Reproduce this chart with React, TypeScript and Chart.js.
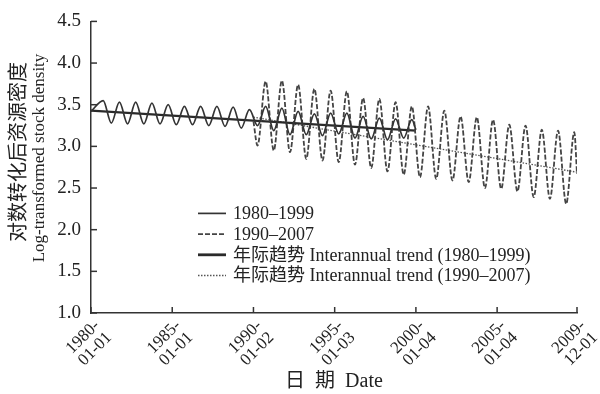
import React, { useEffect, useRef } from "react";
import { Chart, registerables } from "chart.js";

Chart.register(...registerables);

// x axis: month index from 1980-01 (0) to 2009-12 (359)
const tickMonths = [0, 60, 120, 180, 240, 300, 359];
const tickLabels = [
  ["1980-", "01-01"],
  ["1985-", "01-01"],
  ["1990-", "01-02"],
  ["1995-", "01-03"],
  ["2000-", "01-04"],
  ["2005-", "01-04"],
  ["2009-", "12-01"],
];

// seasonal extremes (peak ~ October, trough ~ April)
const peakMonthOfYear = 9;
const troughMonthOfYear = 3;

// Series 1980–1999
const s1Start = { month: 0, value: 3.42 };
const s1PeakYears = [1980, 1981, 1982, 1983, 1984, 1985, 1986, 1987, 1988, 1989, 1990, 1991, 1992, 1993, 1994, 1995, 1996, 1997, 1998, 1999];
const s1Peaks = [3.55, 3.53, 3.53, 3.52, 3.5, 3.48, 3.48, 3.48, 3.47, 3.44, 3.48, 3.46, 3.42, 3.39, 3.4, 3.4, 3.36, 3.34, 3.33, 3.32];
const s1TroughYears = [1981, 1982, 1983, 1984, 1985, 1986, 1987, 1988, 1989, 1990, 1991, 1992, 1993, 1994, 1995, 1996, 1997, 1998, 1999];
const s1Troughs = [3.28, 3.27, 3.27, 3.27, 3.26, 3.26, 3.25, 3.24, 3.22, 3.25, 3.19, 3.14, 3.14, 3.13, 3.15, 3.1, 3.09, 3.08, 3.1];
const s1End = { month: 240, value: 3.2 };

// Series 1990–2007
const s2Start = { month: 120, value: 3.3 };
const s2TroughYears = [1990, 1991, 1992, 1993, 1994, 1995, 1996, 1997, 1998, 1999, 2000, 2001, 2002, 2003, 2004, 2005, 2006, 2007, 2008, 2009];
const s2Troughs = [3.01, 2.95, 2.93, 2.85, 2.83, 2.81, 2.78, 2.74, 2.7, 2.66, 2.63, 2.61, 2.59, 2.57, 2.5, 2.49, 2.46, 2.39, 2.37, 2.31];
const s2PeakYears = [1990, 1991, 1992, 1993, 1994, 1995, 1996, 1997, 1998, 1999, 2000, 2001, 2002, 2003, 2004, 2005, 2006, 2007, 2008, 2009];
const s2Peaks = [3.78, 3.79, 3.74, 3.69, 3.67, 3.66, 3.58, 3.57, 3.53, 3.48, 3.48, 3.43, 3.36, 3.35, 3.32, 3.26, 3.25, 3.2, 3.19, 3.17];
const s2End = { month: 359, value: 2.67 };

// Interannual trends
const trend1Months = [0, 240];
const trend1Values = [3.43, 3.19];
const trend2Months = [120, 359];
const trend2Values = [3.35, 2.69];

const seriesLabels = [
  "1980–1999",
  "1990–2007",
  "年际趋势 Interannual trend (1980–1999)",
  "年际趋势 Interannual trend (1990–2007)",
];

const SERIF = '"Liberation Serif", "Noto Sans CJK SC", serif';

function monthOf(year: number, m: number) {
  return (year - 1980) * 12 + m;
}

function buildSeries(
  start: { month: number; value: number },
  end: { month: number; value: number },
  groups: { years: number[]; values: number[]; m: number }[]
) {
  const pts: { x: number; y: number }[] = [{ x: start.month, y: start.value }];
  groups.forEach((g) => g.years.forEach((yr, i) => pts.push({ x: monthOf(yr, g.m), y: g.values[i] })));
  pts.push({ x: end.month, y: end.value });
  pts.sort((a, b) => a.x - b.x);
  return pts;
}

const legendPlugin = {
  id: "insideLegend",
  afterDatasetsDraw(chart: any) {
    const { ctx, chartArea } = chart;
    const x0 = chartArea.left + 107;
    const y0 = chartArea.top + 192;
    const rowH = 20.7;
    ctx.save();
    ctx.font = "18px " + SERIF;
    ctx.textBaseline = "middle";
    ctx.textAlign = "left";
    chart.data.datasets.forEach((ds: any, i: number) => {
      const y = y0 + i * rowH;
      ctx.strokeStyle = ds.borderColor;
      ctx.lineWidth = ds.legendWidth || ds.borderWidth;
      ctx.setLineDash(ds.borderDash || []);
      ctx.beginPath();
      ctx.moveTo(x0, y);
      ctx.lineTo(x0 + 28, y);
      ctx.stroke();
      ctx.setLineDash([]);
      ctx.fillStyle = "#222";
      ctx.fillText(ds.label, x0 + 35, y + 1);
    });
    ctx.restore();
  },
};

const innerTicksPlugin = {
  id: "innerTicks",
  afterDraw(chart: any) {
    const { ctx, chartArea, scales } = chart;
    ctx.save();
    ctx.strokeStyle = "#333";
    ctx.lineWidth = 1.5;
    scales.x.ticks.forEach((t: any) => {
      const px = scales.x.getPixelForValue(t.value);
      ctx.beginPath();
      ctx.moveTo(px, chartArea.bottom);
      ctx.lineTo(px, chartArea.bottom - 6);
      ctx.stroke();
    });
    scales.y.ticks.forEach((t: any) => {
      const py = scales.y.getPixelForValue(t.value);
      ctx.beginPath();
      ctx.moveTo(chartArea.left, py);
      ctx.lineTo(chartArea.left + 6, py);
      ctx.stroke();
    });
    ctx.restore();
  },
};

const yTitleLines = ["对数转化后资源密度", "Log-transformed stock density"];

const yTitlePlugin = {
  id: "yTitle",
  afterDraw(chart: any) {
    const { ctx } = chart;
    ctx.save();
    ctx.fillStyle = "#222";
    ctx.textAlign = "center";
    ctx.textBaseline = "middle";
    ctx.translate(17, 152);
    ctx.rotate(-Math.PI / 2);
    ctx.font = '20px "Noto Sans CJK SC", ' + SERIF;
    ctx.fillText(yTitleLines[0], 0, 0);
    ctx.font = "17px " + SERIF;
    ctx.fillText(yTitleLines[1], -6, 23);
    ctx.restore();
  },
};

export default function App() {
  const ref = useRef<HTMLCanvasElement | null>(null);
  useEffect(() => {
    if (!ref.current) return;
    const s1 = buildSeries(s1Start, s1End, [
      { years: s1PeakYears, values: s1Peaks, m: peakMonthOfYear },
      { years: s1TroughYears, values: s1Troughs, m: troughMonthOfYear },
    ]);
    const s2 = buildSeries(s2Start, s2End, [
      { years: s2PeakYears, values: s2Peaks, m: peakMonthOfYear },
      { years: s2TroughYears, values: s2Troughs, m: troughMonthOfYear },
    ]);
    const t1 = trend1Months.map((m, i) => ({ x: m, y: trend1Values[i] }));
    const t2 = trend2Months.map((m, i) => ({ x: m, y: trend2Values[i] }));

    const chart = new Chart(ref.current, {
      type: "line",
      data: {
        datasets: [
          {
            label: seriesLabels[0],
            data: s1,
            borderColor: "#333",
            borderWidth: 1.7,
            pointRadius: 0,
            cubicInterpolationMode: "monotone",
          },
          {
            label: seriesLabels[1],
            data: s2,
            borderColor: "#444",
            borderWidth: 1.8,
            borderDash: [5, 2],
            pointRadius: 0,
            cubicInterpolationMode: "monotone",
          },
          {
            label: seriesLabels[2],
            data: t1,
            borderColor: "#2a2a2a",
            borderWidth: 2.2,
            legendWidth: 2.8,
            pointRadius: 0,
          } as any,
          {
            label: seriesLabels[3],
            data: t2,
            borderColor: "#555",
            borderWidth: 1.3,
            borderDash: [1.5, 1.5],
            pointRadius: 0,
          },
        ],
      },
      options: {
        animation: false,
        responsive: false,
        maintainAspectRatio: false,
        parsing: false,
        layout: { padding: { top: 18, right: 23, left: 0, bottom: 0 } },
        plugins: {
          legend: { display: false },
          tooltip: { enabled: false },
        },
        scales: {
          x: {
            type: "linear",
            min: 0,
            max: 359,
            grid: { display: false, drawTicks: false },
            border: { display: true, color: "#333", width: 1.5 },
            afterBuildTicks: (scale: any) => {
              scale.ticks = tickMonths.map((v) => ({ value: v }));
            },
            afterFit: (scale: any) => {
              scale.height = 81;
              scale.paddingLeft = 0;
              scale.paddingRight = 0;
            },
            ticks: {
              autoSkip: false,
              minRotation: 45,
              maxRotation: 45,
              padding: 4,
              labelOffset: 6,
              color: "#222",
              font: { family: SERIF, size: 17, lineHeight: 1.0 },
              callback: (_v: any, i: number) => tickLabels[i],
            },
            title: {
              display: true,
              text: "日  期  Date",
              color: "#222",
              font: { family: SERIF, size: 20 },
              padding: 0,
            },
          },
          y: {
            min: 1,
            max: 4.5,
            grid: { display: false, drawTicks: false },
            border: { display: true, color: "#333", width: 1.5 },
            afterFit: (scale: any) => {
              scale.width = 91;
            },
            ticks: {
              stepSize: 0.5,
              padding: 10,
              color: "#222",
              font: { family: SERIF, size: 19 },
              callback: (v: any) => Number(v).toFixed(1),
            },
          },
        },
      },
      plugins: [legendPlugin, innerTicksPlugin, yTitlePlugin],
    } as any);
    return () => chart.destroy();
  }, []);

  return (
    <div style={{ position: "fixed", left: 0, top: 0, width: 600, height: 394, background: "#fff" }}>
      <canvas ref={ref} width={600} height={394} style={{ width: 600, height: 394 }} />
    </div>
  );
}
